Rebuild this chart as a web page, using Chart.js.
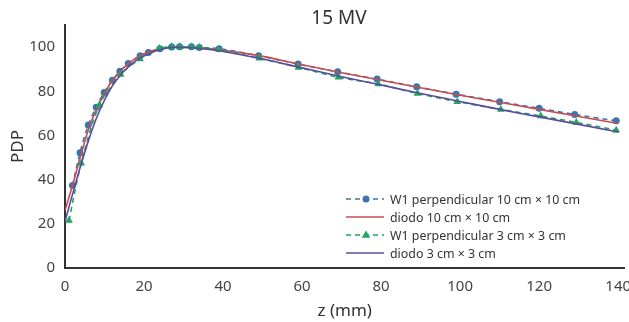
<!DOCTYPE html>
<html>
<head>
<meta charset="utf-8">
<script src="https://cdn.jsdelivr.net/npm/chart.js@4/dist/chart.umd.min.js"></script>
<style>
  html, body { margin: 0; padding: 0; background: #fff; }
  #wrap { width: 629px; height: 322px; }
</style>
</head>
<body>
<div id="wrap"><canvas id="pdp"></canvas></div>
<script>
// W1 perpendicular 10 cm x 10 cm
const w1BigX = [1.9, 3.8, 5.9, 7.9, 9.9, 12.0, 13.9, 16.0, 19.0, 21.1, 24.0, 27.0, 29.0, 32.0, 34.0, 39.0, 49.0, 59.0, 69.0, 79.0, 89.0, 99.0, 110.0, 120.0, 129.0, 139.5];
const w1BigY = [37.3, 52.2, 64.7, 72.8, 79.5, 85.0, 89.1, 92.6, 96.1, 97.6, 99.2, 100.0, 100.2, 100.1, 99.8, 99.3, 96.1, 92.3, 88.8, 85.5, 82.0, 78.7, 75.3, 72.3, 69.5, 66.6];

// diodo 10 cm x 10 cm
const diodoBigX = [0, 2, 4, 6, 8, 10, 12, 14, 16, 18, 20, 24, 28, 32, 36, 40, 50, 60, 70, 80, 90, 100, 110, 120, 130, 140];
const diodoBigY = [26.0, 38.0, 51.0, 63.0, 72.0, 79.0, 85.0, 89.0, 92.5, 95.0, 97.0, 99.2, 100.0, 99.8, 99.3, 98.5, 95.8, 92.0, 88.4, 85.0, 81.6, 78.2, 75.0, 71.8, 68.6, 65.4];

// W1 perpendicular 3 cm x 3 cm
const w1SmallX = [1.0, 4.1, 8.7, 14.1, 19.0, 23.9, 27.0, 29.1, 32.1, 34.0, 39.0, 49.2, 59.1, 69.2, 79.3, 89.2, 99.3, 110.3, 120.4, 129.4, 139.5];
const w1SmallY = [21.5, 47.4, 73.8, 87.6, 94.6, 99.4, 100.1, 100.1, 100.1, 99.8, 98.8, 94.9, 90.8, 86.3, 83.3, 79.0, 75.3, 71.8, 68.8, 65.9, 62.4];

// diodo 3 cm x 3 cm
const diodoSmallX = [0, 2, 4, 6, 8, 10, 12, 14, 16, 18, 20, 24, 28, 32, 36, 40, 50, 60, 70, 80, 90, 100, 110, 120, 130, 140];
const diodoSmallY = [21.0, 34.0, 46.5, 58.0, 68.0, 76.0, 82.5, 87.3, 91.0, 94.0, 96.0, 98.8, 99.9, 99.7, 99.0, 98.0, 94.6, 90.6, 86.6, 82.8, 79.0, 75.4, 71.8, 68.4, 65.0, 61.6];

const xTicks = [0, 20, 40, 60, 80, 100, 120, 140];
const yTicks = [0, 20, 40, 60, 80, 100];

const labels = [
  "W1 perpendicular 10 cm \u00d7 10 cm",
  "diodo 10 cm \u00d7 10 cm",
  "W1 perpendicular 3 cm \u00d7 3 cm",
  "diodo 3 cm \u00d7 3 cm"
];

const toPoints = (xs, ys) => xs.map((x, i) => ({ x: x, y: ys[i] }));

const BLUE = "#3b75af";
const RED = "#c44e52";
const GREEN = "#1ea659";
const PURPLE = "#5a4ba0";

Chart.defaults.font.family = "'Noto Sans', sans-serif";
Chart.defaults.color = "#444";

// титул и легенда рисуем сами
const extras = {
  id: "extras",
  afterDraw(chart) {
    const ctx = chart.ctx;
    ctx.save();
    ctx.fillStyle = "#333";
    ctx.font = "19px 'Noto Sans'";
    ctx.textAlign = "center";
    ctx.textBaseline = "middle";
    ctx.fillText("15 MV", 339, 19);

    ctx.font = "12.4px 'Noto Sans'";
    ctx.textAlign = "left";
    chart.data.datasets.forEach((ds, i) => {
      const y = 199 + i * 18;
      ctx.strokeStyle = ds.borderColor;
      ctx.lineWidth = ds.borderWidth;
      ctx.setLineDash(ds.borderDash || []);
      ctx.beginPath();
      ctx.moveTo(346, y);
      ctx.lineTo(384, y);
      ctx.stroke();
      ctx.setLineDash([]);
      if (ds.pointRadius > 0) {
        ctx.fillStyle = ds.pointBackgroundColor;
        if (ds.pointStyle === "triangle") {
          const r = ds.pointRadius;
          ctx.beginPath();
          ctx.moveTo(366, y - r);
          ctx.lineTo(366 + r * 0.95, y + r * 0.6);
          ctx.lineTo(366 - r * 0.95, y + r * 0.6);
          ctx.closePath();
          ctx.fill();
        } else {
          ctx.beginPath();
          ctx.arc(366, y, ds.pointRadius, 0, Math.PI * 2);
          ctx.fill();
        }
      }
      ctx.fillStyle = "#333";
      ctx.fillText(ds.label, 390, y + 1);
    });
    ctx.restore();
  }
};

new Chart(document.getElementById("pdp"), {
  type: "line",
  data: {
    datasets: [
      {
        label: labels[0],
        data: toPoints(w1BigX, w1BigY),
        borderColor: BLUE,
        borderWidth: 1.6,
        borderDash: [5, 4],
        pointStyle: "circle",
        pointRadius: 3.5,
        pointBackgroundColor: BLUE,
        pointBorderWidth: 0,
        tension: 0.3,
        order: 4
      },
      {
        label: labels[1],
        data: toPoints(diodoBigX, diodoBigY),
        borderColor: RED,
        borderWidth: 1.6,
        pointRadius: 0,
        cubicInterpolationMode: "monotone",
        order: 3
      },
      {
        label: labels[2],
        data: toPoints(w1SmallX, w1SmallY),
        borderColor: GREEN,
        borderWidth: 1.6,
        borderDash: [5, 4],
        pointStyle: "triangle",
        pointRadius: 4.5,
        pointBackgroundColor: GREEN,
        pointBorderWidth: 0,
        tension: 0.3,
        order: 2
      },
      {
        label: labels[3],
        data: toPoints(diodoSmallX, diodoSmallY),
        borderColor: PURPLE,
        borderWidth: 1.6,
        pointRadius: 0,
        cubicInterpolationMode: "monotone",
        order: 1
      }
    ]
  },
  options: {
    responsive: true,
    maintainAspectRatio: false,
    animation: false,
    layout: { padding: { top: 25, left: 0, right: 0, bottom: 0 } },
    plugins: {
      legend: { display: false },
      title: { display: false },
      tooltip: { enabled: false }
    },
    scales: {
      x: {
        type: "linear",
        min: 0,
        max: 141.6,
        afterBuildTicks: (scale) => {
          scale.ticks = xTicks.map((v) => ({ value: v }));
        },
        afterFit: (scale) => {
          scale.height = 54;
          scale.paddingLeft = 0;
          scale.paddingRight = 0;
        },
        grid: { display: false, drawTicks: false },
        border: { color: "#333", width: 2 },
        ticks: { padding: 10, font: { size: 15 }, color: "#444", maxRotation: 0 },
        title: {
          display: true,
          text: "z (mm)",
          font: { size: 17 },
          color: "#333",
          padding: { top: 0, bottom: 1 }
        }
      },
      y: {
        min: 0,
        max: 110,
        afterBuildTicks: (scale) => {
          scale.ticks = yTicks.map((v) => ({ value: v }));
        },
        afterFit: (scale) => {
          scale.width = 65;
        },
        grid: { display: false, drawTicks: false },
        border: { color: "#333", width: 2 },
        ticks: { padding: 10, font: { size: 15 }, color: "#444" },
        title: {
          display: true,
          text: "PDP",
          font: { size: 17 },
          color: "#333",
          padding: { top: 8, bottom: 0 }
        }
      }
    }
  },
  plugins: [extras]
});
</script>
</body>
</html>
